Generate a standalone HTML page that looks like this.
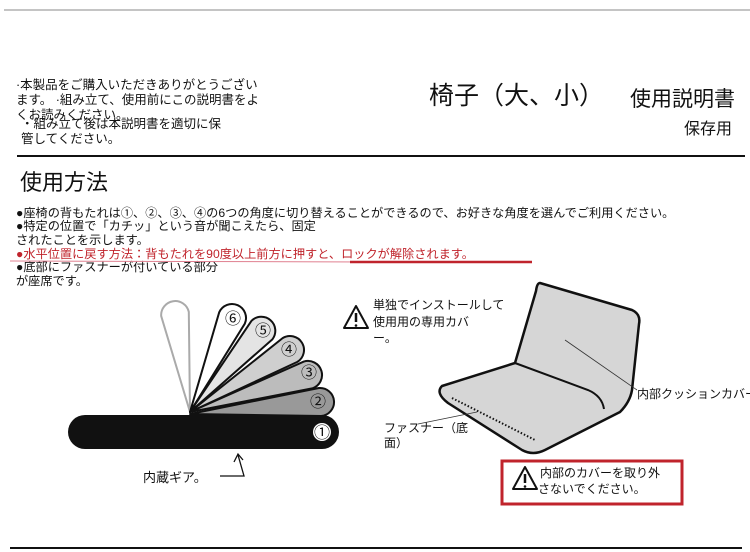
<!DOCTYPE html>
<html><head><meta charset="utf-8">
<style>
html,body{margin:0;padding:0;background:#fff;}
svg{display:block;}
text{font-family:"Liberation Sans","Noto Sans CJK JP",sans-serif;}
</style></head>
<body>
<svg width="750" height="552" viewBox="0 0 750 552" xmlns="http://www.w3.org/2000/svg">
<rect width="750" height="552" fill="#fff"/>
<line x1="4" y1="10" x2="750" y2="10" stroke="#888" stroke-width="1"/>
<g font-size="12.5" fill="#111">
<text x="16" y="89">·本製品をご購入いただきありがとうござい</text>
<text x="16" y="104">ます。 ·組み立て、使用前にこの説明書をよ</text>
<text x="16" y="119">くお読みください。</text>
<text x="21" y="128">・組み立て後は本説明書を適切に保</text>
<text x="21" y="143">管してください。</text>
</g>
<text x="429" y="104" font-size="25" fill="#111">椅子（大、小）</text>
<text x="630" y="106" font-size="21" fill="#111">使用説明書</text>
<text x="684" y="134" font-size="16" fill="#111">保存用</text>
<line x1="17" y1="156" x2="745" y2="156" stroke="#111" stroke-width="2"/>
<text x="20" y="190" font-size="22" fill="#111">使用方法</text>
<g font-size="12.2" fill="#111">
<text x="16" y="217">●座椅の背もたれは①、②、③、④の6つの角度に切り替えることができるので、お好きな角度を選んでご利用ください。</text>
<text x="16" y="230">●特定の位置で「カチッ」という音が聞こえたら、固定</text>
<text x="16" y="244">されたことを示します。</text>
<text x="16" y="258" fill="#c0242c">●水平位置に戻す方法：背もたれを90度以上前方に押すと、ロックが解除されます。</text>
<text x="16" y="271">●底部にファスナーが付いている部分</text>
<text x="16" y="285">が座席です。</text>
</g>
<line x1="10" y1="261" x2="370" y2="262" stroke="#e08090" stroke-width="1"/>
<line x1="350" y1="262" x2="532" y2="262" stroke="#c0242c" stroke-width="2.5"/>

<g stroke-linejoin="round">
<path d="M190,412 L161.2,316.1 A14 14 0 0 1 188.8,311.9 Z" fill="none" stroke="#aaa" stroke-width="2"/>
<path d="M190,412 L219.2,312.3 A14 14 0 0 1 244.8,323.7 Z" fill="#fff" stroke="#111" stroke-width="2"/>
<path d="M190,412 L251.5,320.8 A14 14 0 0 1 272.5,339.2 Z" fill="#e4e4e4" stroke="#111" stroke-width="2"/>
<path d="M190,412 L282.6,338.1 A14 14 0 0 1 297.4,361.9 Z" fill="#cfcfcf" stroke="#111" stroke-width="2"/>
<path d="M190,412 L303.8,361.6 A14 14 0 0 1 312.2,388.4 Z" fill="#bcbcbc" stroke="#111" stroke-width="2"/>
<path d="M190,414 L318.9,388 A14 14 0 0 1 321.1,416 Z" fill="#999" stroke="#111" stroke-width="2"/>
</g>
<rect x="68" y="415" width="271" height="34" rx="17" fill="#111"/>
<g font-size="16" fill="#111" text-anchor="middle">
<text x="233" y="324">⑥</text>
<text x="263" y="336">⑤</text>
<text x="289" y="355">④</text>
<text x="309" y="378">③</text>
<text x="318" y="407">②</text>
</g>
<circle cx="322" cy="432" r="9" fill="#fff"/>
<text x="322" y="438" font-size="16" fill="#111" text-anchor="middle">①</text>
<text x="143" y="482" font-size="13" fill="#111">内蔵ギア。</text>
<polyline points="220,476 244,476 238,455" fill="none" stroke="#111" stroke-width="1.3"/>
<polyline points="234,462 238,454 243,460" fill="none" stroke="#111" stroke-width="1.3"/>

<g>
<path d="M356,306 L368,328 L344,328 Z" fill="#fff" stroke="#111" stroke-width="2" stroke-linejoin="round"/>
<line x1="356" y1="313" x2="356" y2="322" stroke="#111" stroke-width="2.5"/>
<circle cx="356" cy="325.5" r="1.3" fill="#111"/>
</g>
<g font-size="12" fill="#111">
<text x="373" y="309">単独でインストールして</text>
<text x="373" y="326">使用用の専用カバ</text>
<text x="373" y="342">ー。</text>
</g>

<path d="M540,283 L632,310 Q641,314 639,324 L632,390 Q630,402 620,412 L545,450 Q533,456 522,450 L448,403 Q435,393 442,386 L515,363 L536,291 Q537,283 540,283 Z" fill="#d6d6d6" stroke="#111" stroke-width="2.5" stroke-linejoin="round"/>
<path d="M515,363 L588,390 Q602,396 604,409" fill="none" stroke="#111" stroke-width="2"/>
<line x1="452" y1="398" x2="535" y2="440" stroke="#111" stroke-width="2" stroke-dasharray="1.5,2"/>
<line x1="565" y1="340" x2="637" y2="390" stroke="#333" stroke-width="0.8"/>
<line x1="477" y1="412" x2="418" y2="424" stroke="#333" stroke-width="0.8"/>
<text x="637" y="398" font-size="12" fill="#111">内部クッションカバー</text>
<text x="384" y="432" font-size="12" fill="#111">ファスナー（底</text>
<text x="384" y="447" font-size="12" fill="#111">面）</text>

<rect x="502" y="461" width="180" height="43" fill="#fff" stroke="#c0242c" stroke-width="3"/>
<g>
<path d="M525,467 L537,489 L513,489 Z" fill="#fff" stroke="#111" stroke-width="2" stroke-linejoin="round"/>
<line x1="525" y1="474" x2="525" y2="483" stroke="#111" stroke-width="2.5"/>
<circle cx="525" cy="486.5" r="1.3" fill="#111"/>
</g>
<text x="540" y="477" font-size="12" fill="#111">内部のカバーを取り外</text>
<text x="538" y="493" font-size="12" fill="#111">さないでください。</text>

<line x1="10" y1="548" x2="742" y2="548" stroke="#111" stroke-width="2"/>
</svg>
</body></html>
